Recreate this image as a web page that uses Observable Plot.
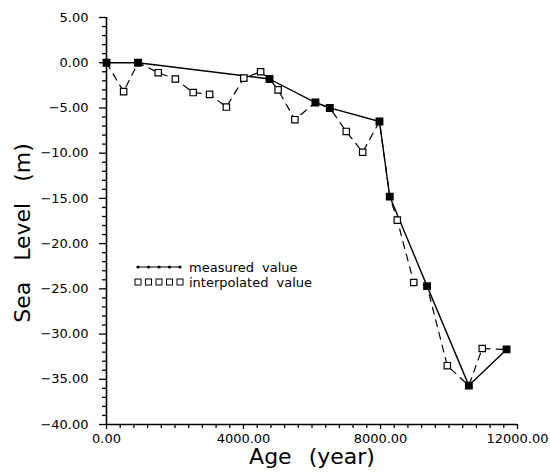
<!DOCTYPE html>
<html><head><meta charset="utf-8">
<script src="https://cdn.jsdelivr.net/npm/d3@7"></script>
<script src="https://cdn.jsdelivr.net/npm/@observablehq/plot@0.6"></script>
<style>
body{margin:0;background:#fff;}
#wrap{position:relative;width:550px;height:473px;}
</style></head><body><div id="wrap"></div>
<script>
// measured value series
const measuredAge   = [0, 920, 4760, 6100, 6520, 7970, 8270, 9360, 10580, 11680];
const measuredLevel = [0, 0, -1.8, -4.4, -5.0, -6.5, -14.8, -24.7, -35.7, -31.7];
// interpolated value series (passes through measured points)
const interpAge   = [0, 500, 920, 1510, 2010, 2530, 3010, 3500, 4010, 4500, 4760, 5010, 5500, 6100, 6520, 7000, 7480, 7970, 8270, 8490, 8970, 9360, 9950, 10580, 10970, 11680];
const interpLevel = [0, -3.2, 0, -1.1, -1.8, -3.3, -3.5, -4.9, -1.7, -1.0, -1.8, -3.0, -6.3, -4.4, -5.0, -7.6, -9.9, -6.5, -14.8, -17.4, -24.3, -24.7, -33.5, -35.7, -31.6, -31.7];
// ticks
const xTicks = [0, 4000, 8000, 12000];
const yTicks = [5, 0, -5, -10, -15, -20, -25, -30, -35, -40];
const xMinor = d3.range(0, 12001, 400).filter(d => d % 4000 !== 0);
const yMinor = d3.range(-40, 6, 1).filter(d => d % 5 !== 0);
// labels
const xLabel = "Age (year)";
const yLabel = "Sea Level (m)";
const legendLabels = ["measured value", "interpolated value"];

const measured = measuredAge.map((a, i) => ({age: a, level: measuredLevel[i]}));
const interp = interpAge.map((a, i) => ({age: a, level: interpLevel[i]}));
const measuredSet = new Set(measuredAge);
const interpOnly = interp.filter(d => !measuredSet.has(d.age));

const fmt = d => d.toFixed(2).replace("-", "\u2212");

const chart = Plot.plot({
  width: 550, height: 473,
  marginLeft: 106, marginRight: 33, marginTop: 17, marginBottom: 49,
  x: {domain: [0, 12000]},
  y: {domain: [-40, 5]},
  style: {fontFamily: "DejaVu Sans", fontSize: "13px", color: "black", background: "white"},
  marks: [
    Plot.axisX({ticks: xTicks, tickFormat: fmt, tickSize: 5, tickPadding: 4, label: null, strokeWidth: 1.3}),
    Plot.axisX({ticks: xMinor, tickSize: 4, text: null, label: null, strokeWidth: 1.3}),
    Plot.axisY({ticks: yTicks, tickFormat: fmt, tickSize: 7, tickPadding: 11, label: null, strokeWidth: 1.3}),
    Plot.axisY({ticks: yMinor, tickSize: 4, text: null, label: null, strokeWidth: 1.3}),
    Plot.ruleX([0], {y1: -40, y2: 5, strokeWidth: 1.6}),
    Plot.ruleY([-40], {x1: 0, x2: 12000, strokeWidth: 1.6}),
    Plot.line(interp, {x: "age", y: "level", stroke: "black", strokeWidth: 1.2, strokeDasharray: "7,6"}),
    Plot.line(measured, {x: "age", y: "level", stroke: "black", strokeWidth: 1.4}),
    Plot.dot(interpOnly, {x: "age", y: "level", symbol: "square", r: 3.6, stroke: "black", strokeWidth: 1.2, fill: "white"}),
    Plot.dot(measured, {x: "age", y: "level", symbol: "square", r: 3.6, fill: "black", stroke: "black"}),
    Plot.text([yLabel], {frameAnchor: "left", textAnchor: "middle", dx: -84, dy: 12, rotate: -90, fontSize: 22, fill: "black"}),
    Plot.text([xLabel], {frameAnchor: "bottom", textAnchor: "middle", dy: 39, fontSize: 22, fill: "black"})
  ]
});
document.getElementById("wrap").appendChild(chart);

const svg = d3.select(chart);
// wide word spacing on axis titles, as in the reference
svg.selectAll("text").filter(function() { return this.textContent === yLabel; }).style("word-spacing", "14px");
svg.selectAll("text").filter(function() { return this.textContent === xLabel; }).style("word-spacing", "10px");

// legend drawn into the same svg
const lg = svg.append("g").attr("font-family", "DejaVu Sans").attr("font-size", 13).attr("text-anchor", "start");
const rowsY = [267, 282];
const lx0 = 138, lx1 = 180, tx = 189;
// row 1: solid line with small dots
lg.append("line").attr("x1", lx0).attr("x2", lx1).attr("y1", rowsY[0]).attr("y2", rowsY[0]).attr("stroke", "black").attr("stroke-width", 1.2);
d3.range(5).forEach(i => lg.append("circle").attr("cx", lx0 + i * (lx1 - lx0) / 4).attr("cy", rowsY[0]).attr("r", 1.6).attr("fill", "black"));
// row 2: small open squares
d3.range(5).forEach(i => lg.append("rect").attr("x", lx0 - 3 + i * (lx1 - lx0) / 4).attr("y", rowsY[1] - 3).attr("width", 6).attr("height", 6).attr("fill", "white").attr("stroke", "black").attr("stroke-width", 1));
legendLabels.forEach((t, i) => lg.append("text").attr("x", tx).attr("y", rowsY[i]).attr("dy", "0.35em").attr("fill", "black").style("word-spacing", "4px").text(t));
</script>
</body></html>
